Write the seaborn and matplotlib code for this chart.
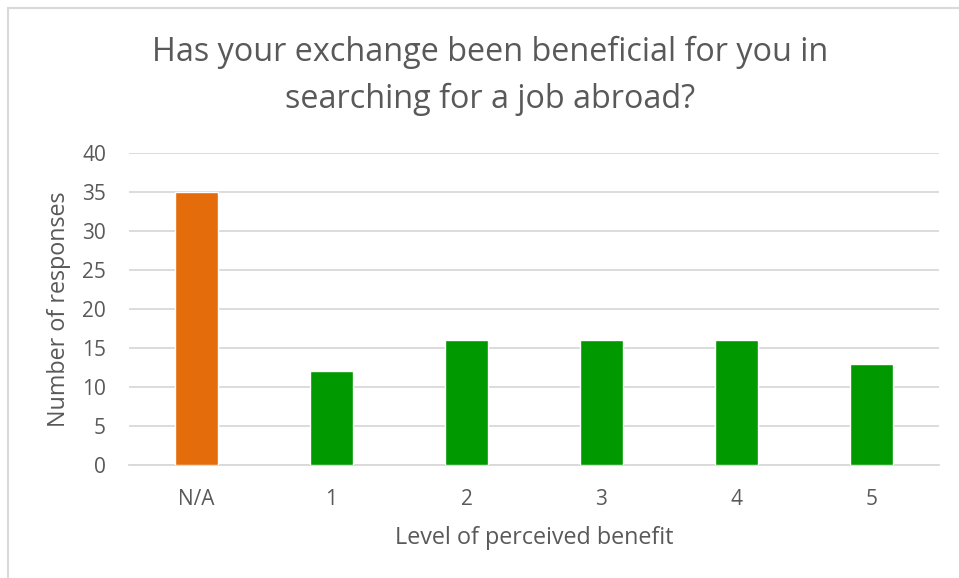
import pandas as pd
import matplotlib.pyplot as plt
import seaborn as sns
from matplotlib.patches import Rectangle

levels = ["N/A", "1", "2", "3", "4", "5"]
responses = [35, 12, 16, 16, 16, 13]
bar_colors = ["#E46C0A", "#009900", "#009900", "#009900", "#009900", "#009900"]

df = pd.DataFrame({"level": levels, "responses": responses})

sns.set_style("white")
plt.rcParams["font.family"] = ["Open Sans", "DejaVu Sans"]

fig = plt.figure(figsize=(9.59, 5.78), dpi=100)
ax = fig.add_axes([129 / 959, 113 / 578, 810 / 959, 312 / 578])

sns.barplot(data=df, x="level", y="responses", hue="level", palette=bar_colors,
            order=levels, width=0.32, saturation=1, legend=False, ax=ax, zorder=3)

ax.set_ylim(0, 40)
ax.set_yticks(range(0, 41, 5))
ax.yaxis.grid(True, color="#D9D9D9", linewidth=1.3, zorder=0)
ax.set_axisbelow(True)
for s in ["top", "right", "left"]:
    ax.spines[s].set_visible(False)
ax.spines["bottom"].set_color("#D9D9D9")
ax.spines["bottom"].set_linewidth(1.3)
ax.tick_params(length=0, labelsize=15, labelcolor="#595959")
ax.tick_params(axis="y", pad=16.5)
ax.tick_params(axis="x", pad=17)

ax.set_xlabel("Level of perceived benefit", fontsize=16.8, color="#595959")
ax.set_ylabel("Number of responses", fontsize=16.8, color="#595959")
ax.xaxis.set_label_coords(0.5, -0.194)
ax.yaxis.set_label_coords(-0.072, 0.5)

fig.text(490 / 959, 1 - 76 / 578,
         "Has your exchange been beneficial for you in\nsearching for a job abroad?",
         ha="center", va="center", fontsize=23.3, color="#595959", linespacing=1.55)

# chart frame
fig.patches.append(Rectangle((8 / 959, -0.05), 1.2, 1 - 8 / 578 + 0.05,
                             transform=fig.transFigure, fill=False,
                             edgecolor="#D9D9D9", linewidth=1.5))

fig.savefig("out.png", dpi=100)
